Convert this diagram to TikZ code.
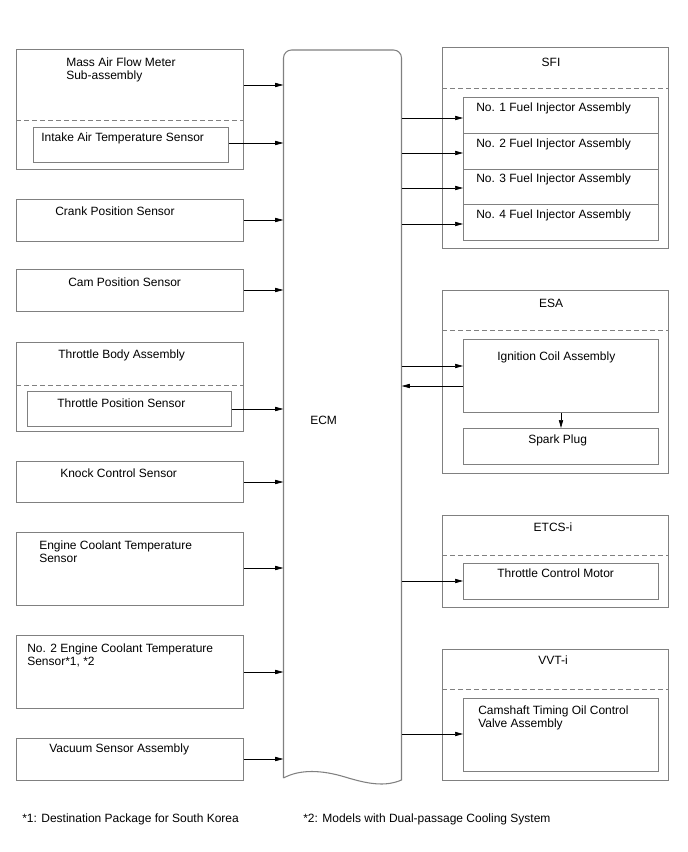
\documentclass[tikz,border=0pt]{standalone}
\usepackage{fontspec}
\setmainfont{Liberation Sans}
\usetikzlibrary{fit,arrows.meta}
\definecolor{boxgray}{HTML}{808080}
\begin{document}
\begin{tikzpicture}[x=0.75pt,y=-0.75pt,
  font=\fontsize{9}{9.9}\selectfont,
  box/.style={draw=boxgray,line width=0.7pt,inner sep=0pt,fit={#1}},
  dashsep/.style={draw=boxgray,line width=0.7pt,dash pattern=on 3.5pt off 2.5pt},
  arr/.style={draw=black,line width=0.5pt,-{Triangle[length=6pt,width=3.2pt]}},
  lbl/.style={anchor=north west,inner sep=0pt,align=left},
  clbl/.style={anchor=north,inner sep=0pt}]
\useasboundingbox (0,0) rectangle (688,852);

% ECM
\node[inner sep=0pt,fit={(283.5,50) (401.5,780)}] (ecm) {};
\draw[draw=boxgray,line width=0.8pt] (283.5,778) -- (283.5,58)
  arc[start angle=180,end angle=90,radius=6pt] -- (393.5,50)
  arc[start angle=90,end angle=0,radius=6pt] -- (401.5,780)
  .. controls (385,787) and (368,784) .. (345,777)
  .. controls (322,770) and (300,769) .. (283.5,778);
\node[anchor=west,inner sep=0pt] (ecmlbl) at (310,420) {ECM};

% left column
\node[box={(16.5,49.5) (243.5,169.5)}] (maf) {};
\draw[dashsep] (maf.west |- 0,120) -- (maf.east |- 0,120);
\node[box={(33.5,127.5) (228.5,162.5)}] (iat) {};
\node[lbl] (maft) at (66,57.5) {Mass Air Flow Meter\\Sub-assembly};
\node[lbl] (iatt) at (41,132.5) {Intake Air Temperature Sensor};

\node[box={(16.5,199.5) (243.5,241.5)}] (crank) {};
\node[lbl] (crankt) at (55,206.5) {Crank Position Sensor};

\node[box={(16.5,269.5) (243.5,311.5)}] (cam) {};
\node[lbl] (camt) at (68,277.5) {Cam Position Sensor};

\node[box={(16.5,342.5) (243.5,431.5)}] (tba) {};
\draw[dashsep] (tba.west |- 0,385) -- (tba.east |- 0,385);
\node[box={(27.5,391.5) (231.5,426.5)}] (tps) {};
\node[lbl] (tbat) at (58,349.5) {Throttle Body Assembly};
\node[lbl] (tpst) at (57,398.5) {Throttle Position Sensor};

\node[box={(16.5,461.5) (243.5,502.5)}] (knock) {};
\node[lbl] (knockt) at (60,468.5) {Knock Control Sensor};

\node[box={(16.5,532.5) (243.5,605.5)}] (ect) {};
\node[lbl] (ectt) at (39,540.5) {Engine Coolant Temperature\\Sensor};

\node[box={(16.5,635.5) (243.5,708.5)}] (ect2) {};
\node[lbl] (ect2t) at (27,643.5) {No. 2 Engine Coolant Temperature\\Sensor*1, *2};

\node[box={(16.5,738.5) (243.5,780.5)}] (vac) {};
\node[lbl] (vact) at (49,743.5) {Vacuum Sensor Assembly};

% left arrows
\draw[arr] (maf.east |- 0,85) -- (ecm.west |- 0,85);
\draw[arr] (iat.east |- 0,143) -- (ecm.west |- 0,143);
\draw[arr] (crank.east |- 0,220) -- (ecm.west |- 0,220);
\draw[arr] (cam.east |- 0,290) -- (ecm.west |- 0,290);
\draw[arr] (tps.east |- 0,409) -- (ecm.west |- 0,409);
\draw[arr] (knock.east |- 0,482) -- (ecm.west |- 0,482);
\draw[arr] (ect.east |- 0,568) -- (ecm.west |- 0,568);
\draw[arr] (ect2.east |- 0,672) -- (ecm.west |- 0,672);
\draw[arr] (vac.east |- 0,759) -- (ecm.west |- 0,759);

% SFI
\node[box={(442.5,47.5) (668.5,248.5)}] (sfi) {};
\draw[dashsep] (sfi.west |- 0,88) -- (sfi.east |- 0,88);
\node[clbl] (sfit) at (551,57.5) {SFI};
\node[box={(463.5,97.5) (658.5,133.5)}] (inj1) {};
\node[box={(463.5,133.5) (658.5,169.5)}] (inj2) {};
\node[box={(463.5,169.5) (658.5,204.5)}] (inj3) {};
\node[box={(463.5,204.5) (658.5,240.5)}] (inj4) {};
\node[lbl] (inj1t) at (476,102.5) {No. 1 Fuel Injector Assembly};
\node[lbl] (inj2t) at (476,138.5) {No. 2 Fuel Injector Assembly};
\node[lbl] (inj3t) at (476,173.5) {No. 3 Fuel Injector Assembly};
\node[lbl] (inj4t) at (476,209.5) {No. 4 Fuel Injector Assembly};
\draw[arr] (ecm.east |- 0,118) -- (inj1.west |- 0,118);
\draw[arr] (ecm.east |- 0,153) -- (inj2.west |- 0,153);
\draw[arr] (ecm.east |- 0,188) -- (inj3.west |- 0,188);
\draw[arr] (ecm.east |- 0,224) -- (inj4.west |- 0,224);

% ESA
\node[box={(442.5,290.5) (668.5,473.5)}] (esa) {};
\draw[dashsep] (esa.west |- 0,330) -- (esa.east |- 0,330);
\node[clbl] (esat) at (551,298.5) {ESA};
\node[box={(463.5,339.5) (658.5,412.5)}] (ign) {};
\node[box={(463.5,428.5) (658.5,464.5)}] (spk) {};
\node[lbl] (ignt) at (497,351.5) {Ignition Coil Assembly};
\node[lbl] (spkt) at (528,434.5) {Spark Plug};
\draw[arr] (ecm.east |- 0,366) -- (ign.west |- 0,366);
\draw[arr] (ign.west |- 0,386) -- (ecm.east |- 0,386);
\draw[arr] (ign.south -| 561,0) -- (spk.north -| 561,0);

% ETCS-i
\node[box={(442.5,515.5) (668.5,607.5)}] (etcs) {};
\draw[dashsep] (etcs.west |- 0,555) -- (etcs.east |- 0,555);
\node[clbl] (etcst) at (553,522.5) {ETCS-i};
\node[box={(463.5,563.5) (658.5,599.5)}] (tcm) {};
\node[lbl] (tcmt) at (497,568.5) {Throttle Control Motor};
\draw[arr] (ecm.east |- 0,581) -- (tcm.west |- 0,581);

% VVT-i
\node[box={(442.5,649.5) (668.5,780.5)}] (vvt) {};
\draw[dashsep] (vvt.west |- 0,689) -- (vvt.east |- 0,689);
\node[clbl] (vvtt) at (553,655.5) {VVT-i};
\node[box={(463.5,698.5) (658.5,771.5)}] (ocv) {};
\node[lbl] (ocvt) at (478,705.5) {Camshaft Timing Oil Control\\Valve Assembly};
\draw[arr] (ecm.east |- 0,734) -- (ocv.west |- 0,734);

% footnotes
\node[lbl] (fn1) at (22,813.5) {*1: Destination Package for South Korea};
\node[lbl] (fn2) at (303,813.5) {*2: Models with Dual-passage Cooling System};
\end{tikzpicture}
\end{document}
